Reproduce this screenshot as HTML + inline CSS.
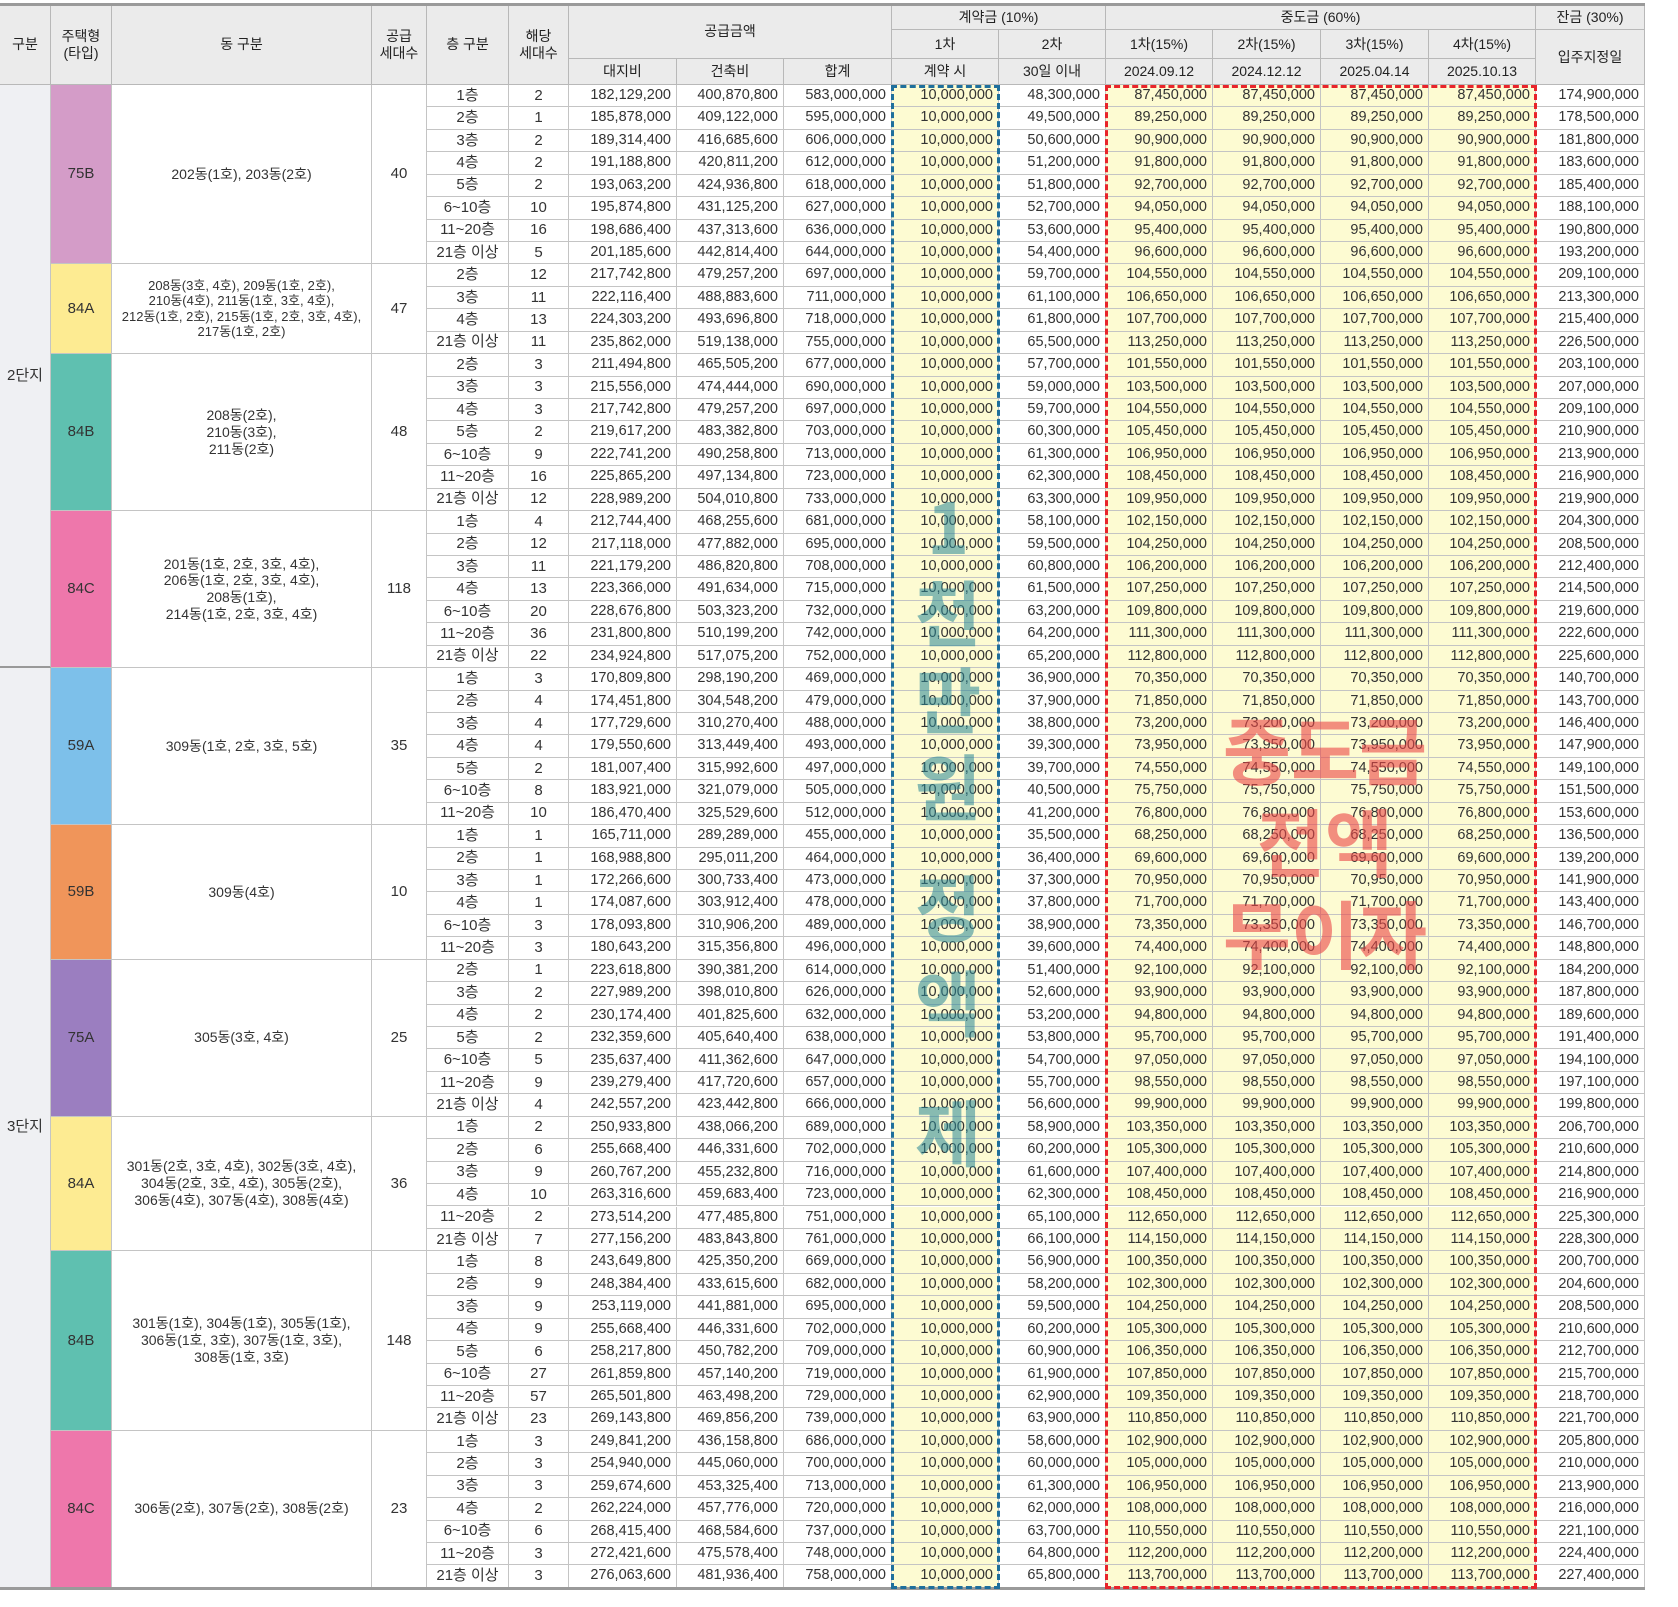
<!DOCTYPE html>
<html><head><meta charset="utf-8"><style>
body{margin:0;width:1678px;height:1607px;background:#fff;overflow:hidden;font-family:"Liberation Sans Narrow","Liberation Sans","Noto Sans CJK KR",sans-serif;}
#t{position:absolute;left:0;top:0;width:1678px;height:1607px;}
.c{position:absolute;box-sizing:border-box;display:flex;align-items:center;justify-content:center;text-align:center;font-size:15px;color:#333;border-right:1px solid #c4c4c4;border-bottom:1px solid #c4c4c4;line-height:1.2;white-space:nowrap;}
.h{background:#ebebeb;font-size:14px;color:#222;border-color:#b8b8b8;}
.n{justify-content:flex-end;padding-right:5px;font-size:14.5px;}
.y{background:#fdfbd2;}
.b{font-size:14px;overflow:hidden;}
.wm{position:absolute;font-family:"Noto Sans CJK KR",sans-serif;font-weight:700;pointer-events:none;text-align:center;}
</style></head><body>
<div id="t"></div>
<script>
const X=[0,51,112,372,427,509,569,677,784,892,999,1106,1213,1321,1429,1536,1645];
const Y0=85,RH=22.43;
const types=[
{t:'75B',col:'#d49cc8',d:'202동(1호), 203동(2호)',s:40,rows:['1층|2|182,129,200|400,870,800|583,000,000|48,300,000|87,450,000|174,900,000','2층|1|185,878,000|409,122,000|595,000,000|49,500,000|89,250,000|178,500,000','3층|2|189,314,400|416,685,600|606,000,000|50,600,000|90,900,000|181,800,000','4층|2|191,188,800|420,811,200|612,000,000|51,200,000|91,800,000|183,600,000','5층|2|193,063,200|424,936,800|618,000,000|51,800,000|92,700,000|185,400,000','6~10층|10|195,874,800|431,125,200|627,000,000|52,700,000|94,050,000|188,100,000','11~20층|16|198,686,400|437,313,600|636,000,000|53,600,000|95,400,000|190,800,000','21층 이상|5|201,185,600|442,814,400|644,000,000|54,400,000|96,600,000|193,200,000']},
{t:'84A',col:'#fdeb92',d:'208동(3호, 4호), 209동(1호, 2호),<br>210동(4호), 211동(1호, 3호, 4호),<br>212동(1호, 2호), 215동(1호, 2호, 3호, 4호),<br>217동(1호, 2호)',s:47,fs:13,rows:['2층|12|217,742,800|479,257,200|697,000,000|59,700,000|104,550,000|209,100,000','3층|11|222,116,400|488,883,600|711,000,000|61,100,000|106,650,000|213,300,000','4층|13|224,303,200|493,696,800|718,000,000|61,800,000|107,700,000|215,400,000','21층 이상|11|235,862,000|519,138,000|755,000,000|65,500,000|113,250,000|226,500,000']},
{t:'84B',col:'#5fc0b0',d:'208동(2호),<br>210동(3호),<br>211동(2호)',s:48,rows:['2층|3|211,494,800|465,505,200|677,000,000|57,700,000|101,550,000|203,100,000','3층|3|215,556,000|474,444,000|690,000,000|59,000,000|103,500,000|207,000,000','4층|3|217,742,800|479,257,200|697,000,000|59,700,000|104,550,000|209,100,000','5층|2|219,617,200|483,382,800|703,000,000|60,300,000|105,450,000|210,900,000','6~10층|9|222,741,200|490,258,800|713,000,000|61,300,000|106,950,000|213,900,000','11~20층|16|225,865,200|497,134,800|723,000,000|62,300,000|108,450,000|216,900,000','21층 이상|12|228,989,200|504,010,800|733,000,000|63,300,000|109,950,000|219,900,000']},
{t:'84C',col:'#ee77ab',d:'201동(1호, 2호, 3호, 4호),<br>206동(1호, 2호, 3호, 4호),<br>208동(1호),<br>214동(1호, 2호, 3호, 4호)',s:118,rows:['1층|4|212,744,400|468,255,600|681,000,000|58,100,000|102,150,000|204,300,000','2층|12|217,118,000|477,882,000|695,000,000|59,500,000|104,250,000|208,500,000','3층|11|221,179,200|486,820,800|708,000,000|60,800,000|106,200,000|212,400,000','4층|13|223,366,000|491,634,000|715,000,000|61,500,000|107,250,000|214,500,000','6~10층|20|228,676,800|503,323,200|732,000,000|63,200,000|109,800,000|219,600,000','11~20층|36|231,800,800|510,199,200|742,000,000|64,200,000|111,300,000|222,600,000','21층 이상|22|234,924,800|517,075,200|752,000,000|65,200,000|112,800,000|225,600,000']},
{t:'59A',col:'#7dc0ea',d:'309동(1호, 2호, 3호, 5호)',s:35,rows:['1층|3|170,809,800|298,190,200|469,000,000|36,900,000|70,350,000|140,700,000','2층|4|174,451,800|304,548,200|479,000,000|37,900,000|71,850,000|143,700,000','3층|4|177,729,600|310,270,400|488,000,000|38,800,000|73,200,000|146,400,000','4층|4|179,550,600|313,449,400|493,000,000|39,300,000|73,950,000|147,900,000','5층|2|181,007,400|315,992,600|497,000,000|39,700,000|74,550,000|149,100,000','6~10층|8|183,921,000|321,079,000|505,000,000|40,500,000|75,750,000|151,500,000','11~20층|10|186,470,400|325,529,600|512,000,000|41,200,000|76,800,000|153,600,000']},
{t:'59B',col:'#f0955a',d:'309동(4호)',s:10,rows:['1층|1|165,711,000|289,289,000|455,000,000|35,500,000|68,250,000|136,500,000','2층|1|168,988,800|295,011,200|464,000,000|36,400,000|69,600,000|139,200,000','3층|1|172,266,600|300,733,400|473,000,000|37,300,000|70,950,000|141,900,000','4층|1|174,087,600|303,912,400|478,000,000|37,800,000|71,700,000|143,400,000','6~10층|3|178,093,800|310,906,200|489,000,000|38,900,000|73,350,000|146,700,000','11~20층|3|180,643,200|315,356,800|496,000,000|39,600,000|74,400,000|148,800,000']},
{t:'75A',col:'#9b7ec0',d:'305동(3호, 4호)',s:25,rows:['2층|1|223,618,800|390,381,200|614,000,000|51,400,000|92,100,000|184,200,000','3층|2|227,989,200|398,010,800|626,000,000|52,600,000|93,900,000|187,800,000','4층|2|230,174,400|401,825,600|632,000,000|53,200,000|94,800,000|189,600,000','5층|2|232,359,600|405,640,400|638,000,000|53,800,000|95,700,000|191,400,000','6~10층|5|235,637,400|411,362,600|647,000,000|54,700,000|97,050,000|194,100,000','11~20층|9|239,279,400|417,720,600|657,000,000|55,700,000|98,550,000|197,100,000','21층 이상|4|242,557,200|423,442,800|666,000,000|56,600,000|99,900,000|199,800,000']},
{t:'84A',col:'#fdeb92',d:'301동(2호, 3호, 4호), 302동(3호, 4호),<br>304동(2호, 3호, 4호), 305동(2호),<br>306동(4호), 307동(4호), 308동(4호)',s:36,rows:['1층|2|250,933,800|438,066,200|689,000,000|58,900,000|103,350,000|206,700,000','2층|6|255,668,400|446,331,600|702,000,000|60,200,000|105,300,000|210,600,000','3층|9|260,767,200|455,232,800|716,000,000|61,600,000|107,400,000|214,800,000','4층|10|263,316,600|459,683,400|723,000,000|62,300,000|108,450,000|216,900,000','11~20층|2|273,514,200|477,485,800|751,000,000|65,100,000|112,650,000|225,300,000','21층 이상|7|277,156,200|483,843,800|761,000,000|66,100,000|114,150,000|228,300,000']},
{t:'84B',col:'#5fc0b0',d:'301동(1호), 304동(1호), 305동(1호),<br>306동(1호, 3호), 307동(1호, 3호),<br>308동(1호, 3호)',s:148,rows:['1층|8|243,649,800|425,350,200|669,000,000|56,900,000|100,350,000|200,700,000','2층|9|248,384,400|433,615,600|682,000,000|58,200,000|102,300,000|204,600,000','3층|9|253,119,000|441,881,000|695,000,000|59,500,000|104,250,000|208,500,000','4층|9|255,668,400|446,331,600|702,000,000|60,200,000|105,300,000|210,600,000','5층|6|258,217,800|450,782,200|709,000,000|60,900,000|106,350,000|212,700,000','6~10층|27|261,859,800|457,140,200|719,000,000|61,900,000|107,850,000|215,700,000','11~20층|57|265,501,800|463,498,200|729,000,000|62,900,000|109,350,000|218,700,000','21층 이상|23|269,143,800|469,856,200|739,000,000|63,900,000|110,850,000|221,700,000']},
{t:'84C',col:'#ee77ab',d:'306동(2호), 307동(2호), 308동(2호)',s:23,rows:['1층|3|249,841,200|436,158,800|686,000,000|58,600,000|102,900,000|205,800,000','2층|3|254,940,000|445,060,000|700,000,000|60,000,000|105,000,000|210,000,000','3층|3|259,674,600|453,325,400|713,000,000|61,300,000|106,950,000|213,900,000','4층|2|262,224,000|457,776,000|720,000,000|62,000,000|108,000,000|216,000,000','6~10층|6|268,415,400|468,584,600|737,000,000|63,700,000|110,550,000|221,100,000','11~20층|3|272,421,600|475,578,400|748,000,000|64,800,000|112,200,000|224,400,000','21층 이상|3|276,063,600|481,936,400|758,000,000|65,800,000|113,700,000|227,400,000']}
];
const T=document.getElementById('t');
function cell(x1,y1,x2,y2,html,cls,name,bg){
  const e=document.createElement('div');
  e.className='c '+(cls||'');
  e.style.left=x1+'px';e.style.top=y1+'px';e.style.width=(x2-x1)+'px';e.style.height=(y2-y1)+'px';
  if(bg)e.style.background=bg;
  e.innerHTML=html;
  
  
  T.appendChild(e);return e;
}
const H=[5,30,59,85];
cell(X[0],H[0],X[1],H[3],'구분','h','header-division');
cell(X[1],H[0],X[2],H[3],'주택형<br>(타입)','h','header-type');
cell(X[2],H[0],X[3],H[3],'동 구분','h','header-building');
cell(X[3],H[0],X[4],H[3],'공급<br>세대수','h','header-supply-units');
cell(X[4],H[0],X[5],H[3],'층 구분','h','header-floor');
cell(X[5],H[0],X[6],H[3],'해당<br>세대수','h','header-units');
cell(X[6],H[0],X[9],H[2],'공급금액','h','header-supply-price');
cell(X[6],H[2],X[7],H[3],'대지비','h','header-land');
cell(X[7],H[2],X[8],H[3],'건축비','h','header-building-cost');
cell(X[8],H[2],X[9],H[3],'합계','h','header-total');
cell(X[9],H[0],X[11],H[1],'계약금 (10%)','h','header-deposit');
cell(X[9],H[1],X[10],H[2],'1차','h','header-deposit-1');
cell(X[10],H[1],X[11],H[2],'2차','h','header-deposit-2');
cell(X[9],H[2],X[10],H[3],'계약 시','h','header-deposit-1-date');
cell(X[10],H[2],X[11],H[3],'30일 이내','h','header-deposit-2-date');
cell(X[11],H[0],X[15],H[1],'중도금 (60%)','h','header-interim');
const ip=['1차(15%)','2차(15%)','3차(15%)','4차(15%)'],id=['2024.09.12','2024.12.12','2025.04.14','2025.10.13'];
for(let i=0;i<4;i++){cell(X[11+i],H[1],X[12+i],H[2],ip[i],'h','header-interim-'+(i+1));cell(X[11+i],H[2],X[12+i],H[3],id[i],'h','header-interim-date-'+(i+1));}
cell(X[15],H[0],X[16],H[1],'잔금 (30%)','h','header-balance');
cell(X[15],H[1],X[16],H[3],'입주지정일','h','header-move-in');
let r=0;const yy=i=>Y0+i*RH;
types.forEach((tp,ti)=>{
  const r0=r,n=tp.rows.length;
  cell(X[1],yy(r0),X[2],yy(r0+n),tp.t,'','type-'+tp.t.toLowerCase()+'-label',tp.col);
  const bc=cell(X[2],yy(r0),X[3],yy(r0+n),tp.d,'b','building-list');
  if(tp.fs)bc.style.fontSize=tp.fs+'px';
  cell(X[3],yy(r0),X[4],yy(r0+n),String(tp.s),'','supply-units');
  tp.rows.forEach(s=>{
    const v=s.split('|');
    const y1=yy(r),y2=yy(r+1);
    cell(X[4],y1,X[5],y2,v[0],'','floor');
    cell(X[5],y1,X[6],y2,v[1],'','unit-count');
    cell(X[6],y1,X[7],y2,v[2],'n','land-cost');
    cell(X[7],y1,X[8],y2,v[3],'n','building-cost');
    cell(X[8],y1,X[9],y2,v[4],'n','total-price');
    cell(X[9],y1,X[10],y2,'10,000,000','n y','deposit-1');
    cell(X[10],y1,X[11],y2,v[5],'n','deposit-2');
    for(let k=0;k<4;k++)cell(X[11+k],y1,X[12+k],y2,v[6],'n y','interim-'+(k+1));
    cell(X[15],y1,X[16],y2,v[7],'n','balance');
    r++;
  });
});
const g1=cell(X[0],Y0,X[1],yy(26),'2단지','','complex-2',"#eff0f3");
const g2=cell(X[0],yy(26),X[1],yy(67),'3단지','','complex-3',"#eff0f3");
g1.style.borderBottom='2px solid #999';
function box(x1,y1,x2,y2,st,name){const e=document.createElement('div');e.style.cssText='position:absolute;box-sizing:border-box;left:'+x1+'px;top:'+y1+'px;width:'+(x2-x1)+'px;height:'+(y2-y1)+'px;'+st;


T.appendChild(e);}
box(0,3,X[16],6,'background:#9a9a9a','top-rule');
box(0,yy(67)-1,X[16],yy(67)+2,'background:#9a9a9a','bottom-rule');
box(X[9]-1,Y0,X[10]+1,yy(67)+1,'border:3px dashed #1f6f9c','deposit-highlight');
box(X[11]-1,Y0,X[15]+1,yy(67)+1,'border:3px dashed #e8242a','interim-highlight');
const bw=['1','천','만','원','정','액','제'],by=[523,610,697,784,905,1000,1130];
bw.forEach((c,i)=>{const e=document.createElement('div');e.className='wm';e.textContent=c;e.style.cssText+='left:905px;width:86px;top:'+(by[i]-42)+'px;font-size:72px;line-height:84px;color:rgba(40,135,150,0.55);';


T.appendChild(e);});
['중도금','전액','무이자'].forEach((c,i)=>{const e=document.createElement('div');e.className='wm';e.textContent=c;e.style.cssText+='left:1200px;width:250px;top:'+(705+i*92)+'px;font-size:74px;line-height:86px;color:rgba(235,70,70,0.6);';


T.appendChild(e);});
</script>
</body></html>
